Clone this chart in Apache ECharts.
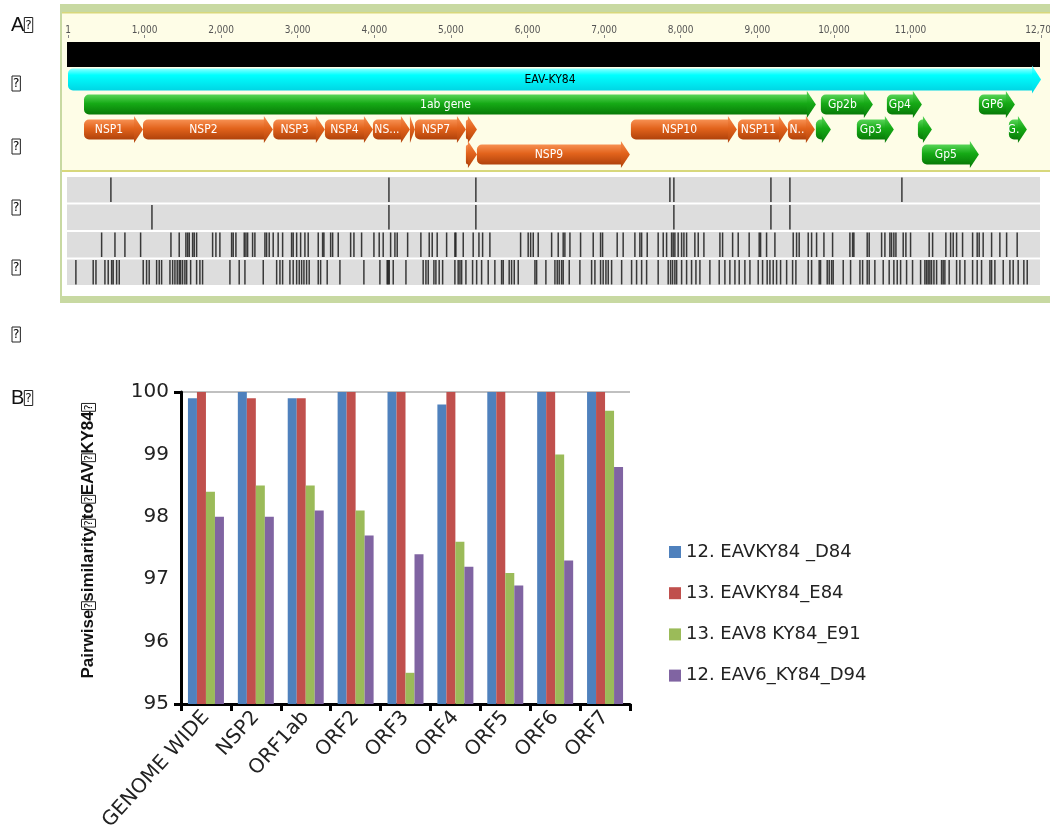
<!DOCTYPE html>
<html><head><meta charset="utf-8">
<script src="https://cdn.jsdelivr.net/npm/echarts@6/dist/echarts.min.js"></script>
<style>html,body{margin:0;padding:0;background:#fff}#c{width:1050px;height:839px}</style>
</head><body><div id="c"></div>
<script>
// ---------- Panel A data (genome positions, bp) ----------
const genomeLen = 12704;
const genomeTicks = [1,1000,2000,3000,4000,5000,6000,7000,8000,9000,10000,11000,12704];
const featLabel = ['', 'EAV-KY84', '1ab gene', 'NSP1', 'NSP2', 'NSP3', 'NSP4', 'NS...', '', 'NSP7', '', '', 'NSP9', 'NSP10', 'NSP11', 'N..', '', 'Gp2b', 'Gp3', 'Gp4', '', 'Gp5', 'GP6', 'G.'];
const featStart = [1, 1, 210, 210, 980, 2680, 3355, 3982, 4465, 4530, 5196, 5196, 5340, 7350, 8747, 9400, 9765, 9830, 10300, 10692, 11097, 11149, 11893, 12285];
const featEnd   = [12704, 12704, 9765, 980, 2676, 3355, 3982, 4465, 4530, 5196, 5340, 5340, 7337, 8734, 9400, 9752, 9961, 10509, 10783, 11149, 11280, 11893, 12363, 12520];
const featRow   = [0, 1, 2, 3, 3, 3, 3, 3, 3, 3, 3, 4, 4, 3, 3, 3, 3, 2, 3, 2, 3, 4, 2, 3];
const featKind  = ['black','cyan','green','orange','orange','orange','orange','orange','orange','orange','orange','orange','orange','orange','orange','orange','green','green','green','green','green','green','green','green'];
const rowNames = ['genome','source','r1','r2','r3'];
const trackNames = ['t1','t2','t3','t4'];
const track1 = [561, 4191, 5326, 7859, 7911, 9178, 9426, 10888];
const track2 = [1097, 4191, 5326, 7911, 9178, 9426];
const track3 = [440,614,744,949,1345,1453,1540,1563,1584,1628,1649,1680,1889,1932,1984,2137,2158,2193,2302,2324,2346,2411,2441,2572,2594,2628,2680,2745,2803,2920,2941,2986,3038,3094,3137,3268,3325,3342,3430,3456,3529,3691,3734,3834,3995,4064,4116,4213,4269,4299,4435,4608,4717,4756,4821,4944,5052,5065,5161,5291,5366,5414,5509,5910,6009,6041,6075,6140,6315,6401,6466,6488,6554,6693,6858,6954,6980,7171,7249,7402,7467,7490,7563,7706,7772,7816,7881,7902,7924,7967,8012,8042,8077,8185,8229,8303,8512,8547,8678,8751,8894,9025,9043,9121,9230,9469,9513,9547,9665,9709,9774,9870,9983,10209,10244,10261,10435,10461,10623,10666,10731,10753,10783,10810,10905,10940,11001,11244,11289,11462,11524,11558,11602,11680,11811,11871,11897,11949,12059,12167,12255,12393];
const track4 = [104,330,366,483,526,571,591,636,670,983,1027,1061,1158,1192,1223,1332,1367,1397,1427,1453,1471,1497,1527,1550,1602,1680,1723,1758,2115,2236,2311,2550,2725,2768,2803,2898,2941,2986,3020,3051,3081,3116,3150,3268,3299,3385,3551,3864,4073,4168,4181,4195,4247,4413,4638,4674,4704,4778,4804,4847,4892,5052,5095,5118,5140,5196,5283,5336,5401,5487,5574,5662,5683,5761,5792,5827,5879,6097,6119,6240,6358,6388,6414,6445,6466,6545,6684,6837,6880,6954,6988,7024,7054,7098,7229,7359,7424,7490,7555,7706,7837,7868,7894,7924,7947,8012,8077,8142,8199,8251,8381,8503,8577,8642,8708,8764,8838,8904,9012,9069,9129,9165,9208,9252,9304,9383,9461,9504,9665,9709,9808,9826,9913,9939,9970,9991,10122,10218,10340,10375,10435,10461,10535,10644,10722,10783,10827,10871,10949,11027,11132,11188,11210,11231,11253,11275,11306,11341,11406,11427,11449,11505,11602,11645,11710,11811,11871,11928,12037,12059,12102,12211,12298,12341,12406,12480,12524];

// ---------- Panel B data ----------
const regions = ['GENOME WIDE','NSP2','ORF1ab','ORF2','ORF3','ORF4','ORF5','ORF6','ORF7'];
const seriesNames = ['12. EAVKY84 _D84','13. EAVKY84_E84','13. EAV8 KY84_E91','12. EAV6_KY84_D94'];
const sD84  = [99.9, 100, 99.9, 100, 100, 99.8, 100, 100, 100];
const sE84  = [100, 99.9, 99.9, 100, 100, 100, 100, 100, 100];
const sE91  = [98.4, 98.5, 98.5, 98.1, 95.5, 97.6, 97.1, 99.0, 99.7];
const sD94  = [98.0, 98.0, 98.1, 97.7, 97.4, 97.2, 96.9, 97.3, 98.8];
const yTicksB = [95, 96, 97, 98, 99, 100];

// ---------- rendering ----------
const chart = echarts.init(document.getElementById('c'), null, {renderer: 'canvas'});
const narrow = '"Liberation Sans Narrow","DejaVu Sans Condensed","Liberation Sans",sans-serif';
function grad(kind) {
  if (kind === 'green') return new echarts.graphic.LinearGradient(0,0,0,1,[{offset:0,color:'#58d558'},{offset:0.45,color:'#16aa16'},{offset:1,color:'#077a07'}]);
  if (kind === 'orange') return new echarts.graphic.LinearGradient(0,0,0,1,[{offset:0,color:'#f79052'},{offset:0.45,color:'#e2631c'},{offset:1,color:'#b0420b'}]);
  if (kind === 'cyan') return new echarts.graphic.LinearGradient(0,0,0,1,[{offset:0,color:'#8affff'},{offset:0.3,color:'#00ffff'},{offset:1,color:'#00d6e4'}]);
  return '#000';
}
function renderFeature(params, api) {
  const i = params.dataIndex;
  const kind = featKind[i], label = featLabel[i];
  const p0 = api.coord([api.value(0), api.value(2)]);
  const p1 = api.coord([api.value(1), api.value(2)]);
  const x0 = p0[0], x1 = p1[0], yc = p0[1];
  const children = [];
  if (kind === 'black') {
    children.push({type:'rect', shape:{x:x0-1, y:yc-12.5, width:x1-x0, height:25}, style:{fill:'#000'}});
    return {type:'group', children};
  }
  const bh = kind === 'cyan' ? 22 : 20, hh = kind === 'cyan' ? 28 : 27, hl = 9;
  const xh = Math.max(x0, x1 - hl);
  if (xh - x0 > 0.5) children.push({type:'rect', shape:{x:x0, y:yc-bh/2, width:xh-x0+0.5, height:bh, r:[5,0,0,5]}, style:{fill:grad(kind)}});
  children.push({type:'polygon', shape:{points:[[xh, yc-hh/2],[x1, yc],[xh, yc+hh/2]]}, style:{fill:grad(kind)}});
  if (label) children.push({type:'text', style:{text:label, x:(x0+xh)/2, y:yc+0.5, align:'center', verticalAlign:'middle', fill: kind === 'cyan' ? '#000' : '#fff', fontSize:12, fontFamily:narrow}});
  return {type:'group', children};
}
function renderTrack(params, api) {
  const p0 = api.coord([api.value(0), api.value(2)]);
  const p1 = api.coord([api.value(1), api.value(2)]);
  const h = api.size([0, 1])[1];
  return {type:'rect', shape:{x:p0[0]-1, y:p0[1]-h/2+1, width:p1[0]-p0[0], height:h-2}, style:{fill:'#dddddd'}};
}
function renderVariant(params, api) {
  const p = api.coord([api.value(0), api.value(1)]);
  const h = api.size([0, 1])[1];
  return {type:'rect', shape:{x:p[0]-0.75, y:p[1]-h/2+1.5, width:1.5, height:h-3}, style:{fill:'rgba(15,15,15,0.8)'}};
}
const featData = featStart.map((s, i) => [s, featEnd[i], featRow[i]]);
const trackData = trackNames.map((t, i) => [1, genomeLen, i]);
const varData = [];
[track1, track2, track3, track4].forEach((arr, ti) => arr.forEach(p => varData.push([p, ti])));

const tofu = {fontSize:12, lineHeight:13, fontWeight:'normal', fontFamily:'DejaVu Sans', color:'#111',
  borderColor:'#222', borderWidth:1, padding:[2,1,1,1]};

const option = {
  animation: false,
  backgroundColor: '#fff',
  graphic: [
    {type:'rect', shape:{x:60, y:4, width:1000, height:299}, style:{fill:'#c8d9a2'}, z:0},
    {type:'rect', shape:{x:62, y:12, width:995, height:160}, style:{fill:'#fefde7'}, z:0},
    {type:'rect', shape:{x:62, y:12, width:995, height:1.5}, style:{fill:'#d8d87c'}, z:0},
    {type:'rect', shape:{x:62, y:170, width:995, height:2}, style:{fill:'#d8d87c'}, z:0},
    {type:'rect', shape:{x:62, y:172, width:995, height:124}, style:{fill:'#ffffff'}, z:0},
    {type:'text', x:11, y:15, style:{text:'A{t|?}', fontSize:20, fontFamily:'Liberation Sans', fill:'#111', rich:{t:tofu}}, z:1},
    {type:'text', x:11, y:388, style:{text:'B{t|?}', fontSize:20, fontFamily:'Liberation Sans', fill:'#111', rich:{t:tofu}}, z:1},
    {type:'text', x:12, y:77, style:{text:'{t|?}', rich:{t:tofu}}, z:1},
    {type:'text', x:12, y:140, style:{text:'{t|?}', rich:{t:tofu}}, z:1},
    {type:'text', x:12, y:201, style:{text:'{t|?}', rich:{t:tofu}}, z:1},
    {type:'text', x:12, y:261, style:{text:'{t|?}', rich:{t:tofu}}, z:1},
    {type:'text', x:12, y:328, style:{text:'{t|?}', rich:{t:tofu}}, z:1}
  ],
  legend: {
    data: seriesNames, orient:'vertical', left:664, top:538, icon:'rect',
    itemWidth:12, itemHeight:12, itemGap:23.2, selectedMode:false,
    textStyle:{fontSize:18, fontFamily:'DejaVu Sans', color:'#222'}
  },
  grid: [
    {left:68, width:973, top:42, height:125, outerBoundsMode:'none'},
    {left:68, width:973, top:176, height:110, outerBoundsMode:'none'},
    {left:181, width:449, top:392, height:312, outerBoundsMode:'none'}
  ],
  xAxis: [
    {gridIndex:0, type:'value', min:1, max:genomeLen, position:'top', offset:4,
     axisLine:{show:false}, splitLine:{show:false},
     axisTick:{show:true, customValues:genomeTicks, length:3, lineStyle:{color:'#888'}},
     axisLabel:{customValues:genomeTicks, margin:3, fontSize:10, color:'#555', fontFamily:narrow,
       formatter: v => Number(v).toLocaleString('en-US')}},
    {gridIndex:1, type:'value', min:1, max:genomeLen, show:false},
    {gridIndex:2, type:'category', data:regions,
     axisLine:{lineStyle:{color:'#000', width:3}},
     axisTick:{show:true, length:7, lineStyle:{color:'#000', width:3}},
     axisLabel:{rotate:48, interval:0, fontSize:20, color:'#222', fontFamily:'DejaVu Sans', margin:10}}
  ],
  yAxis: [
    {gridIndex:0, type:'category', data:rowNames, inverse:true, show:false},
    {gridIndex:1, type:'category', data:trackNames, inverse:true, show:false},
    {gridIndex:2, type:'value', min:95, max:100, interval:1,
     axisLine:{show:true, lineStyle:{color:'#000', width:3}},
     axisTick:{show:true, customValues:[95, 100], length:7, lineStyle:{color:'#000', width:3}},
     axisLabel:{customValues:yTicksB, fontSize:20, color:'#222', fontFamily:'DejaVu Sans', margin:12},
     splitLine:{show:true, lineStyle:{color:'#ababab', width:1.5}},
     name:'Pairwise{t|?}similarity{t|?}to{t|?}EAV{t|?}KY84{t|?}', nameLocation:'middle', nameGap:84,
     nameTextStyle:{fontSize:17, fontWeight:'bold', fontFamily:'Liberation Sans', color:'#111', padding:[0,0,0,14],
       rich:{t:{fontSize:11, lineHeight:13, fontWeight:'normal', fontFamily:'DejaVu Sans', color:'#111', borderColor:'#222', borderWidth:1, padding:[2,1,1,1]}}}}
  ],
  series: [
    {type:'custom', xAxisIndex:0, yAxisIndex:0, data:featData, renderItem:renderFeature, z:5, silent:true},
    {type:'custom', xAxisIndex:1, yAxisIndex:1, data:trackData, renderItem:renderTrack, z:4, silent:true},
    {type:'custom', xAxisIndex:1, yAxisIndex:1, data:varData, renderItem:renderVariant, z:5, silent:true},
    {name:seriesNames[0], type:'bar', xAxisIndex:2, yAxisIndex:2, data:sD84, barWidth:9, barGap:'0%', itemStyle:{color:'#4f81bd'}},
    {name:seriesNames[1], type:'bar', xAxisIndex:2, yAxisIndex:2, data:sE84, barWidth:9, barGap:'0%', itemStyle:{color:'#c0504d'}},
    {name:seriesNames[2], type:'bar', xAxisIndex:2, yAxisIndex:2, data:sE91, barWidth:9, barGap:'0%', itemStyle:{color:'#9bbb59'}},
    {name:seriesNames[3], type:'bar', xAxisIndex:2, yAxisIndex:2, data:sD94, barWidth:9, barGap:'0%', itemStyle:{color:'#8064a2'}}
  ]
};
chart.setOption(option);
</script></body></html>
